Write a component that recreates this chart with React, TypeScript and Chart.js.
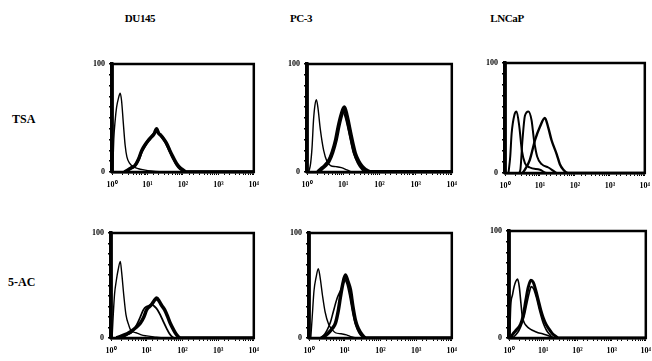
import React, { useEffect, useRef } from "react";
import { Chart, registerables } from "chart.js";

Chart.register(...registerables);

// ---------- text ----------
const columnTitles = ["DU145", "PC-3", "LNCaP"];
const rowTitles = ["TSA", "5-AC"];
const xTickLabels = ["10⁰", "10¹", "10²", "10³", "10⁴"];
const yTickLabels = ["0", "100"];

// ---------- data: [log10 fluorescence, relative count] ----------
// DU145 / TSA
const du145TsaControl = [[0.02, 0], [0.05, 30], [0.09, 48], [0.13, 60], [0.18, 68], [0.23, 73], [0.27, 66], [0.32, 45], [0.37, 25], [0.42, 14], [0.5, 8], [0.6, 5], [0.75, 3], [0.9, 2], [1.1, 1], [1.5, 0], [4, 0]];
const du145TsaTreated = [[0.35, 0], [0.45, 2], [0.55, 4], [0.65, 6], [0.75, 12], [0.84, 20], [0.93, 25], [1.02, 29], [1.1, 32], [1.18, 35], [1.26, 40], [1.31, 36], [1.38, 34], [1.45, 31], [1.55, 26], [1.63, 20], [1.72, 14], [1.82, 8], [1.92, 4], [2.0, 2], [2.1, 0], [4, 0]];
const du145TsaUntreated = [[0.4, 0], [0.5, 3], [0.62, 5], [0.74, 11], [0.84, 19], [0.94, 25], [1.04, 30], [1.12, 33], [1.2, 36], [1.27, 38], [1.34, 35], [1.42, 32], [1.52, 27], [1.62, 20], [1.72, 13], [1.82, 7], [1.92, 3], [2.02, 1], [2.1, 0], [4, 0]];
// PC-3 / TSA
const pc3TsaControl = [[0.05, 0], [0.1, 8], [0.14, 23], [0.18, 48], [0.22, 62], [0.26, 67], [0.3, 60], [0.37, 39], [0.46, 20], [0.55, 10], [0.65, 6], [0.8, 5], [0.95, 4], [1.1, 2], [1.25, 0], [4, 0]];
const pc3TsaTreated = [[0.3, 0], [0.4, 3], [0.5, 6], [0.6, 10], [0.7, 18], [0.8, 30], [0.87, 42], [0.95, 53], [1.03, 60], [1.1, 52], [1.2, 36], [1.27, 25], [1.33, 17], [1.42, 10], [1.52, 5], [1.62, 2], [1.75, 0], [4, 0]];
const pc3TsaUntreated = [[0.35, 0], [0.45, 4], [0.55, 9], [0.65, 15], [0.75, 25], [0.85, 38], [0.93, 50], [1.0, 55], [1.08, 48], [1.18, 33], [1.28, 18], [1.4, 8], [1.5, 3], [1.6, 0], [4, 0]];
// LNCaP / TSA
const lncapTsaControl = [[0.1, 0], [0.15, 15], [0.19, 36], [0.27, 53], [0.33, 56], [0.41, 42], [0.48, 21], [0.57, 9], [0.71, 5], [1.0, 3], [1.2, 0], [4, 0]];
const lncapTsaUntreated = [[0.4, 0], [0.44, 3], [0.5, 30], [0.57, 52], [0.67, 56], [0.76, 48], [0.83, 30], [0.92, 15], [1.05, 8], [1.24, 5], [1.43, 1], [1.5, 0], [4, 0]];
const lncapTsaTreated = [[0.5, 0], [0.57, 3], [0.71, 12], [0.86, 30], [1.0, 42], [1.14, 50], [1.24, 41], [1.33, 30], [1.48, 17], [1.57, 8], [1.67, 3], [1.8, 0], [4, 0]];
// DU145 / 5-AC
const du145AcControl = [[0.03, 0], [0.06, 20], [0.1, 42], [0.15, 55], [0.2, 65], [0.26, 73], [0.3, 62], [0.36, 40], [0.42, 22], [0.5, 12], [0.56, 7], [0.7, 5], [0.85, 3], [1.0, 2], [1.2, 1], [1.5, 0], [4, 0]];
const du145AcTreated = [[0.15, 0], [0.3, 2], [0.45, 4], [0.55, 6], [0.7, 10], [0.82, 14], [0.92, 20], [1.0, 27], [1.08, 30], [1.14, 32], [1.22, 36], [1.28, 38], [1.35, 35], [1.42, 31], [1.5, 27], [1.58, 21], [1.66, 14], [1.75, 8], [1.84, 3], [1.95, 0], [4, 0]];
const du145AcUntreated = [[0.3, 0], [0.45, 3], [0.6, 6], [0.74, 14], [0.82, 20], [0.91, 27], [1.0, 30], [1.08, 31], [1.14, 32], [1.22, 30], [1.3, 27], [1.38, 22], [1.46, 16], [1.56, 9], [1.64, 4], [1.72, 1], [1.8, 0], [4, 0]];
// PC-3 / 5-AC
const pc3AcControl = [[0.05, 0], [0.09, 20], [0.14, 45], [0.2, 58], [0.26, 66], [0.31, 58], [0.38, 40], [0.45, 25], [0.55, 13], [0.65, 8], [0.74, 5], [0.9, 4], [1.05, 3], [1.2, 1], [1.35, 0], [4, 0]];
const pc3AcTreated = [[0.35, 0], [0.45, 2], [0.55, 5], [0.65, 9], [0.74, 14], [0.82, 26], [0.88, 39], [0.95, 52], [1.02, 60], [1.08, 55], [1.16, 46], [1.23, 30], [1.3, 17], [1.38, 9], [1.49, 3], [1.6, 0], [4, 0]];
const pc3AcUntreated = [[0.3, 0], [0.4, 2], [0.5, 7], [0.6, 15], [0.68, 25], [0.79, 38], [0.88, 45], [0.93, 49], [1.0, 55], [1.06, 52], [1.14, 40], [1.22, 25], [1.3, 13], [1.4, 5], [1.5, 1], [1.6, 0], [4, 0]];
// LNCaP / 5-AC
const lncapAcControl = [[0.02, 0], [0.05, 30], [0.1, 40], [0.15, 48], [0.2, 53], [0.25, 55], [0.3, 48], [0.35, 32], [0.39, 20], [0.45, 14], [0.52, 11], [0.59, 9], [0.7, 7], [0.85, 5], [0.98, 4], [1.15, 2], [1.37, 0], [4, 0]];
const lncapAcTreated = [[0.05, 0], [0.1, 3], [0.2, 7], [0.34, 13], [0.42, 22], [0.49, 35], [0.56, 47], [0.64, 54], [0.71, 52], [0.78, 45], [0.86, 35], [0.93, 26], [1.0, 19], [1.08, 13], [1.18, 8], [1.27, 4], [1.35, 2], [1.45, 0], [4, 0]];
const lncapAcUntreated = [[0.1, 0], [0.2, 3], [0.29, 7], [0.36, 12], [0.44, 20], [0.52, 32], [0.59, 42], [0.65, 48], [0.72, 46], [0.8, 38], [0.9, 25], [1.0, 14], [1.1, 7], [1.2, 3], [1.3, 0], [4, 0]];

// ---------- layout (page pixels of each plot box) ----------
type Box = { l: number; t: number; r: number; b: number };
type Series = { points: number[][]; width: number };
const panels: { box: Box; series: Series[] }[] = [
  { box: { l: 112, t: 64, r: 254, b: 172 }, series: [
    { points: du145TsaControl, width: 1.4 },
    { points: du145TsaUntreated, width: 2.8 },
    { points: du145TsaTreated, width: 3.4 },
  ] },
  { box: { l: 307, t: 64, r: 452, b: 172 }, series: [
    { points: pc3TsaControl, width: 1.4 },
    { points: pc3TsaUntreated, width: 1.6 },
    { points: pc3TsaTreated, width: 4 },
  ] },
  { box: { l: 505, t: 63, r: 645, b: 173 }, series: [
    { points: lncapTsaControl, width: 2 },
    { points: lncapTsaUntreated, width: 2 },
    { points: lncapTsaTreated, width: 2.4 },
  ] },
  { box: { l: 111, t: 233, r: 254, b: 338 }, series: [
    { points: du145AcControl, width: 1.4 },
    { points: du145AcUntreated, width: 1.8 },
    { points: du145AcTreated, width: 3.5 },
  ] },
  { box: { l: 309, t: 233, r: 452, b: 338 }, series: [
    { points: pc3AcControl, width: 1.4 },
    { points: pc3AcUntreated, width: 1.6 },
    { points: pc3AcTreated, width: 3.5 },
  ] },
  { box: { l: 509, t: 231, r: 646, b: 338 }, series: [
    { points: lncapAcControl, width: 1.6 },
    { points: lncapAcUntreated, width: 1.6 },
    { points: lncapAcTreated, width: 3 },
  ] },
];

const PAD_L = 30, PAD_T = 10, PAD_R = 10, PAD_B = 24;
const FONT = '"Liberation Serif", "Times New Roman", serif';

const boxPlugin = {
  id: "plotBox",
  afterDraw(chart: any) {
    const { ctx, chartArea } = chart;
    ctx.save();
    ctx.strokeStyle = "#000";
    ctx.lineWidth = 2.5;
    ctx.strokeRect(chartArea.left, chartArea.top, chartArea.right - chartArea.left, chartArea.bottom - chartArea.top);
    ctx.lineWidth = 3.5;
    ctx.beginPath();
    ctx.moveTo(chartArea.left, chartArea.top - 1);
    ctx.lineTo(chartArea.left, chartArea.bottom + 1);
    ctx.stroke();
    ctx.restore();
  },
};

function Panel({ box, series }: { box: Box; series: Series[] }) {
  const ref = useRef<HTMLCanvasElement>(null);
  const w = box.r - box.l + PAD_L + PAD_R;
  const h = box.b - box.t + PAD_T + PAD_B;
  useEffect(() => {
    if (!ref.current) return;
    const chart = new Chart(ref.current, {
      type: "line",
      data: {
        datasets: series.map((s) => ({
          data: s.points.map(([lx, c]) => ({ x: Math.pow(10, lx), y: c })),
          borderColor: "#000",
          borderWidth: s.width,
          pointRadius: 0,
          fill: false,
          tension: 0.2,
          cubicInterpolationMode: "monotone" as const,
        })),
      },
      options: {
        responsive: false,
        animation: false,
        devicePixelRatio: 1,
        parsing: false as any,
        layout: { padding: { top: PAD_T, right: PAD_R, left: 0, bottom: 0 } },
        plugins: { legend: { display: false }, tooltip: { enabled: false } },
        scales: {
          x: {
            type: "logarithmic",
            min: 1,
            max: 10000,
            afterFit: (s: any) => { s.height = PAD_B; },
            grid: { display: true, drawOnChartArea: false, drawTicks: true, tickLength: 3, color: "#000", lineWidth: 1 },
            border: { display: true, color: "#000", width: 2.5 },
            ticks: {
              autoSkip: false,
              maxRotation: 0,
              padding: 5,
              color: "#000",
              font: { family: FONT, weight: "bold", size: 8 },
              callback: (v: any) => {
                const e = Math.log10(Number(v));
                const r = Math.round(e);
                return Math.abs(e - r) < 1e-6 ? xTickLabels[r] : "";
              },
            },
          },
          y: {
            type: "linear",
            min: 0,
            max: 100,
            afterFit: (s: any) => { s.width = PAD_L; },
            grid: { display: true, drawOnChartArea: false, drawTicks: true, tickLength: 3, color: "#000", lineWidth: 1.5 },
            border: { display: true, color: "#000", width: 3.5 },
            ticks: {
              stepSize: 10,
              autoSkip: false,
              padding: 4,
              color: "#000",
              font: { family: FONT, weight: "bold", size: 8 },
              callback: (v: any) => (v === 0 ? yTickLabels[0] : v === 100 ? yTickLabels[1] : ""),
            },
          },
        },
      } as any,
      plugins: [boxPlugin],
    });
    return () => chart.destroy();
  }, []);
  return (
    <canvas
      ref={ref}
      width={w}
      height={h}
      style={{ position: "absolute", left: box.l - PAD_L, top: box.t - PAD_T, width: w, height: h }}
    />
  );
}

const titleStyle: React.CSSProperties = {
  position: "absolute",
  fontFamily: FONT,
  fontWeight: "bold",
  color: "#000",
  whiteSpace: "nowrap",
  lineHeight: 1,
};

export default function App() {
  const colCenters = [140, 301, 507];
  const rowCenters = [119, 282];
  const rowLefts = [12, 8];
  return (
    <div style={{ position: "absolute", left: 0, top: 0, width: 652, height: 361, background: "#fff", overflow: "hidden" }}>
      {columnTitles.map((t, i) => (
        <div key={t} style={{ ...titleStyle, fontSize: 11, letterSpacing: -0.4, left: colCenters[i], top: 18, transform: "translate(-50%, -50%)" }}>
          {t}
        </div>
      ))}
      {rowTitles.map((t, i) => (
        <div key={t} style={{ ...titleStyle, fontSize: 12, left: rowLefts[i], top: rowCenters[i], transform: "translateY(-50%)" }}>
          {t}
        </div>
      ))}
      {panels.map((p, i) => (
        <Panel key={i} box={p.box} series={p.series} />
      ))}
    </div>
  );
}
